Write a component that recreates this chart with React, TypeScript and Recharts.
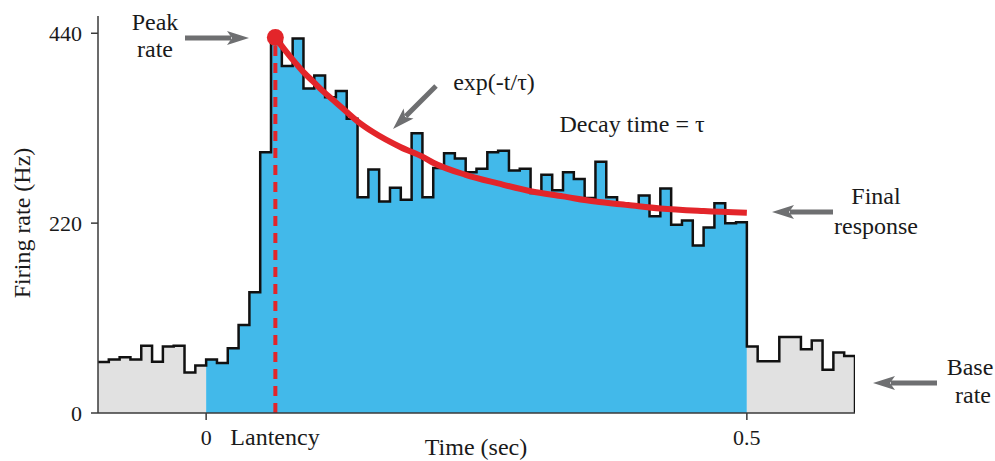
import React from "react";
import { ComposedChart, Area, Line, XAxis, YAxis, ReferenceLine, ReferenceDot } from "recharts";

// bin width in seconds
const binWidth = 0.01;
const firstBinStart = -0.1;

// spontaneous activity before the stimulus (-0.1 .. 0 s)
const baselineBefore = [59, 62, 64.5, 62, 78, 59.5, 77, 78, 47, 55];

// response window (0 .. 0.5 s)
const response = [
  62, 58, 75, 102, 140, 302, 430, 402, 434, 376,
  391, 366, 373, 341, 250, 282, 245, 261, 247, 324,
  250, 284, 301, 295, 279, 283, 302, 304, 281, 283,
  255, 276, 258, 279, 271, 249, 291, 250, 243, 241,
  252, 228, 260, 218, 223, 194, 215, 243, 220, 221,
];

// activity after the stimulus (0.5 .. 0.6 s)
const baselineAfter = [77, 60, 60, 88, 88, 74, 84, 50, 70, 66];

// exponential fit
const fitTimes = [
  0.064, 0.072, 0.081, 0.09, 0.099, 0.108, 0.118, 0.128, 0.14, 0.155,
  0.18, 0.2, 0.21, 0.24, 0.27, 0.3, 0.33, 0.36, 0.39, 0.42, 0.46, 0.5,
];
const fitRates = [
  435, 422, 408, 395, 384, 373, 362, 351, 338, 325,
  308, 297, 290, 276, 266, 257, 251, 245, 241, 237, 234, 232,
];

const latency = 0.064;
const peakRate = 435;

const xTicks = [0, 0.5];
const yTicks = [0, 220, 440];

const BLUE = "#42b9ea";
const GREY = "#e1e1e1";
const RED = "#e3252a";
const ARROW = "#6e6f71";
const FONT = "'Liberation Serif', 'DejaVu Serif', serif";

const round = (v: number) => Math.round(v * 1000) / 1000;

const allBins = [...baselineBefore, ...response, ...baselineAfter];
const nBefore = baselineBefore.length;
const nResp = response.length;

const rows: any[] = allBins.map((v, i) => ({
  t: round(firstBinStart + i * binWidth),
  rate: v,
  pre: i < nBefore ? v : null,
  mid: i >= nBefore && i < nBefore + nResp ? v : null,
  post: i >= nBefore + nResp ? v : null,
}));
// close each step segment at its right edge
rows[nBefore].pre = baselineBefore[nBefore - 1];
rows[nBefore + nResp].mid = response[nResp - 1];
const lastT = round(firstBinStart + allBins.length * binWidth);
const lastV = baselineAfter[baselineAfter.length - 1];
rows.push({ t: lastT, rate: lastV, pre: null, mid: null, post: lastV });
rows.push({ t: lastT, rate: 0, pre: null, mid: null, post: null });

const fitData = fitTimes.map((t, i) => ({ t, fit: fitRates[i] }));

const Arrow = ({ x1, y1, x2, y2 }: { x1: number; y1: number; x2: number; y2: number }) => {
  const dx = x2 - x1;
  const dy = y2 - y1;
  const len = Math.hypot(dx, dy);
  const ux = dx / len;
  const uy = dy / len;
  const headLen = 22;
  const headW = 7;
  const bx = x2 - ux * headLen;
  const by = y2 - uy * headLen;
  return (
    <g>
      <line x1={x1} y1={y1} x2={bx + ux * 4} y2={by + uy * 4} stroke={ARROW} strokeWidth={5} />
      <polygon
        points={`${x2},${y2} ${bx - uy * headW},${by + ux * headW} ${bx + ux * 5},${by + uy * 5} ${bx + uy * headW},${by - ux * headW}`}
        fill={ARROW}
      />
    </g>
  );
};

const txt = { fontFamily: FONT, fontSize: 24, fill: "#1a1a1a", textAnchor: "middle" as const, dominantBaseline: "central" as const };

export default function App() {
  return (
    <div style={{ position: "absolute", left: 0, top: 0, width: 995, height: 461, overflow: "hidden" }}>
      <ComposedChart
        width={995}
        height={461}
        data={rows}
        margin={{ top: 16, right: 140, bottom: 0, left: 0 }}
        style={{ fontFamily: FONT }}
      >
        <XAxis
          dataKey="t"
          type="number"
          domain={[-0.1, 0.6]}
          ticks={xTicks}
          tickFormatter={(v) => String(v)}
          height={48}
          tickSize={7}
          tickMargin={9}
          axisLine={{ stroke: "#3a3a3a", strokeWidth: 1.5 }}
          tickLine={{ stroke: "#3a3a3a", strokeWidth: 1.5 }}
          tick={{ fontSize: 22, fill: "#1a1a1a", fontFamily: FONT }}
          allowDataOverflow
        />
        <YAxis
          type="number"
          domain={[0, 460]}
          ticks={yTicks}
          width={98}
          tickSize={7}
          tickMargin={9}
          axisLine={{ stroke: "#3a3a3a", strokeWidth: 1.5 }}
          tickLine={{ stroke: "#3a3a3a", strokeWidth: 1.5 }}
          tick={{ fontSize: 22, fill: "#1a1a1a", fontFamily: FONT }}
          allowDataOverflow
        />
        <Area dataKey="pre" type="stepAfter" stroke="none" fill={GREY} fillOpacity={1} baseValue={0} isAnimationActive={false} />
        <Area dataKey="mid" type="stepAfter" stroke="none" fill={BLUE} fillOpacity={1} baseValue={0} isAnimationActive={false} />
        <Area dataKey="post" type="stepAfter" stroke="none" fill={GREY} fillOpacity={1} baseValue={0} isAnimationActive={false} />
        <Line dataKey="rate" type="stepAfter" stroke="#111" strokeWidth={2.5} dot={false} isAnimationActive={false} />
        <ReferenceLine
          segment={[{ x: latency, y: 0 }, { x: latency, y: peakRate }]}
          stroke={RED}
          strokeWidth={4}
          strokeDasharray="10 7"
        />
        <Line
          data={fitData}
          dataKey="fit"
          type="monotone"
          stroke={RED}
          strokeWidth={6}
          dot={false}
          isAnimationActive={false}
        />
        <ReferenceDot x={latency} y={peakRate} r={8.5} fill={RED} stroke="none" />
      </ComposedChart>
      <svg width={995} height={461} style={{ position: "absolute", left: 0, top: 0, pointerEvents: "none" }}>
        <text {...txt} x={155} y={22}>Peak</text>
        <text {...txt} x={155} y={49}>rate</text>
        <Arrow x1={185} y1={38} x2={249} y2={38} />
        <text {...txt} x={494} y={82}>exp(-t/τ)</text>
        <Arrow x1={436} y1={86} x2={393} y2={129} />
        <text {...txt} x={632} y={124}>Decay time = τ</text>
        <text {...txt} x={876} y={196}>Final</text>
        <text {...txt} x={876} y={226}>response</text>
        <Arrow x1={833} y1={212} x2={772} y2={212} />
        <text {...txt} x={970} y={367}>Base</text>
        <text {...txt} x={973} y={395}>rate</text>
        <Arrow x1={937} y1={383} x2={873} y2={383} />
        <text {...txt} x={275} y={437}>Lantency</text>
        <text {...txt} x={476} y={447}>Time (sec)</text>
        <text {...txt} x={22} y={223} transform="rotate(-90 22 223)">Firing rate (Hz)</text>
      </svg>
    </div>
  );
}
